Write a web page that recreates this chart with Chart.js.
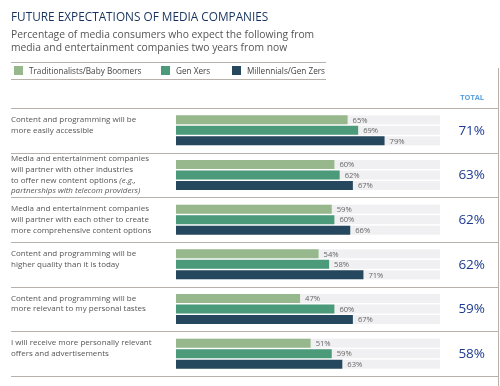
<!DOCTYPE html>
<html>
<head>
<meta charset="utf-8">
<script src="https://cdn.jsdelivr.net/npm/chart.js@4.4.1/dist/chart.umd.min.js"></script>
<style>
  body { margin: 0; background: #fff; font-family: "Open Sans", sans-serif; }
  #wrap { position: relative; width: 500px; height: 386px; overflow: hidden; }
  #salesChart { position: absolute; left: 0; top: 0; }
  .title { position: absolute; left: 11px; top: 9px; margin: 0; font-size: 11.8px; line-height: 15px; font-weight: normal; color: #16325c; white-space: nowrap; }
  .subtitle { position: absolute; left: 11px; top: 28px; margin: 0; font-size: 10.3px; line-height: 13px; color: #555; white-space: nowrap; }
  #legend { position: absolute; left: 11px; top: 62px; width: 315px; height: 16px; border-top: 1px solid #b8b1aa; border-bottom: 1px solid #b8b1aa; font-size: 8.2px; color: #444; }
  #legend .item { position: absolute; top: 0; height: 16px; line-height: 16px; white-space: nowrap; }
  #legend .sw { display: inline-block; width: 9px; height: 9px; vertical-align: -1px; margin-right: 6px; }
</style>
</head>
<body>
<div id="wrap">
  <canvas id="salesChart" width="500" height="386"></canvas>
  <div class="title">FUTURE EXPECTATIONS OF MEDIA COMPANIES</div>
  <div class="subtitle">Percentage of media consumers who expect the following from<br>media and entertainment companies two years from now</div>
  <div id="legend"></div>
</div>
<script>
// categories, one array of lines each (_text_ = italic)
const categories = [
  ['Content and programming will be', 'more easily accessible'],
  ['Media and entertainment companies', 'will partner with other industries', 'to offer new content options _(e.g.,_', '_partnerships with telecom providers)_'],
  ['Media and entertainment companies', 'will partner with each other to create', 'more comprehensive content options'],
  ['Content and programming will be', 'higher quality than it is today'],
  ['Content and programming will be', 'more relevant to my personal tastes'],
  ['I will receive more personally relevant', 'offers and advertisements']
];
const seriesNames = ['Traditionalists/Baby Boomers', 'Gen Xers', 'Millennials/Gen Zers'];
const boomers = [65, 60, 59, 54, 47, 51];
const genX = [69, 62, 60, 58, 60, 59];
const millennials = [79, 67, 66, 71, 67, 63];
const totals = [71, 63, 62, 62, 59, 58];

const colors = ['#97b88c', '#4b9b7b', '#26485e'];
const trackColor = '#f0f0f2';
const lineColor = '#b8b1aa';

// legend
const legendEl = document.getElementById('legend');
const legendLeft = [3, 150, 221];
seriesNames.forEach((name, i) => {
    const item = document.createElement('span');
    item.className = 'item';
    item.style.left = legendLeft[i] + 'px';
    item.innerHTML = '<span class="sw" style="background:' + colors[i] + '"></span>' + name;
    legendEl.appendChild(item);
});

const decor = {
    id: 'decor',
    beforeDatasetsDraw(chart) {
        const { ctx, chartArea, scales: { x, y } } = chart;
        const x0 = x.getPixelForValue(0), x1 = x.getPixelForValue(100);
        ctx.save();
        // grey tracks behind the bars
        ctx.fillStyle = trackColor;
        chart.data.datasets.forEach((ds, i) => {
            chart.getDatasetMeta(i).data.forEach(bar => {
                const p = bar.getProps(['y', 'height'], true);
                ctx.fillRect(x0, p.y - p.height / 2, x1 - x0, p.height);
            });
        });
        // row separators
        const ys = [chartArea.top, chartArea.bottom];
        for (let i = 1; i < categories.length; i++) {
            ys.push((y.getPixelForValue(i - 1) + y.getPixelForValue(i)) / 2);
        }
        ctx.strokeStyle = lineColor;
        ctx.lineWidth = 1;
        ys.forEach(v => {
            const yy = Math.round(v) + 0.5;
            ctx.beginPath();
            ctx.moveTo(11, yy);
            ctx.lineTo(499, yy);
            ctx.stroke();
        });
        ctx.beginPath();
        ctx.moveTo(498.5, 68);
        ctx.lineTo(498.5, 386);
        ctx.stroke();
        ctx.restore();
    },
    afterDatasetsDraw(chart) {
        const { ctx, scales: { y } } = chart;
        ctx.save();
        // value labels
        ctx.font = '7.6px "Open Sans"';
        ctx.fillStyle = '#666';
        ctx.textBaseline = 'middle';
        ctx.textAlign = 'left';
        chart.data.datasets.forEach((ds, i) => {
            chart.getDatasetMeta(i).data.forEach((bar, j) => {
                ctx.fillText(ds.data[j] + '%', bar.x + 5, bar.y + 0.5);
            });
        });
        // totals
        ctx.textAlign = 'right';
        ctx.font = 'bold 7.4px "Open Sans"';
        ctx.fillStyle = '#5fa4e0';
        ctx.fillText('TOTAL', 484, 98);
        ctx.font = '13.5px "Open Sans"';
        ctx.fillStyle = '#1d3a8f';
        totals.forEach((t, i) => ctx.fillText(t + '%', 485, y.getPixelForValue(i) + 0.5));
        // category labels
        ctx.textAlign = 'left';
        ctx.fillStyle = '#555';
        const lh = 10.6;
        categories.forEach((lines, i) => {
            const n = Math.max(lines.length, 3);
            let yy = y.getPixelForValue(i) - (n - 1) * lh / 2;
            lines.forEach(line => {
                let xx = 11;
                line.split('_').forEach((seg, k) => {
                    ctx.font = (k % 2 ? 'italic ' : '') + '8px "Open Sans"';
                    ctx.fillText(seg, xx, yy);
                    xx += ctx.measureText(seg).width;
                });
                yy += lh;
            });
        });
        ctx.restore();
    }
};

const chartConfig = {
    type: 'bar',
    data: {
        labels: categories.map(c => c.join(' ')),
        datasets: [boomers, genX, millennials].map((data, i) => ({
            label: seriesNames[i],
            data: data,
            backgroundColor: colors[i],
            categoryPercentage: 0.705,
            barPercentage: 0.86
        }))
    },
    options: {
        indexAxis: 'y',
        responsive: false,
        animation: false,
        layout: { padding: { left: 176, right: 60, top: 108, bottom: 10 } },
        scales: {
            x: { display: false, min: 0, max: 100 },
            y: { display: false }
        },
        plugins: {
            legend: { display: false },
            tooltip: { enabled: false }
        }
    },
    plugins: [decor]
};

const ctx = document.getElementById('salesChart').getContext('2d');
new Chart(ctx, chartConfig);
</script>
</body>
</html>
